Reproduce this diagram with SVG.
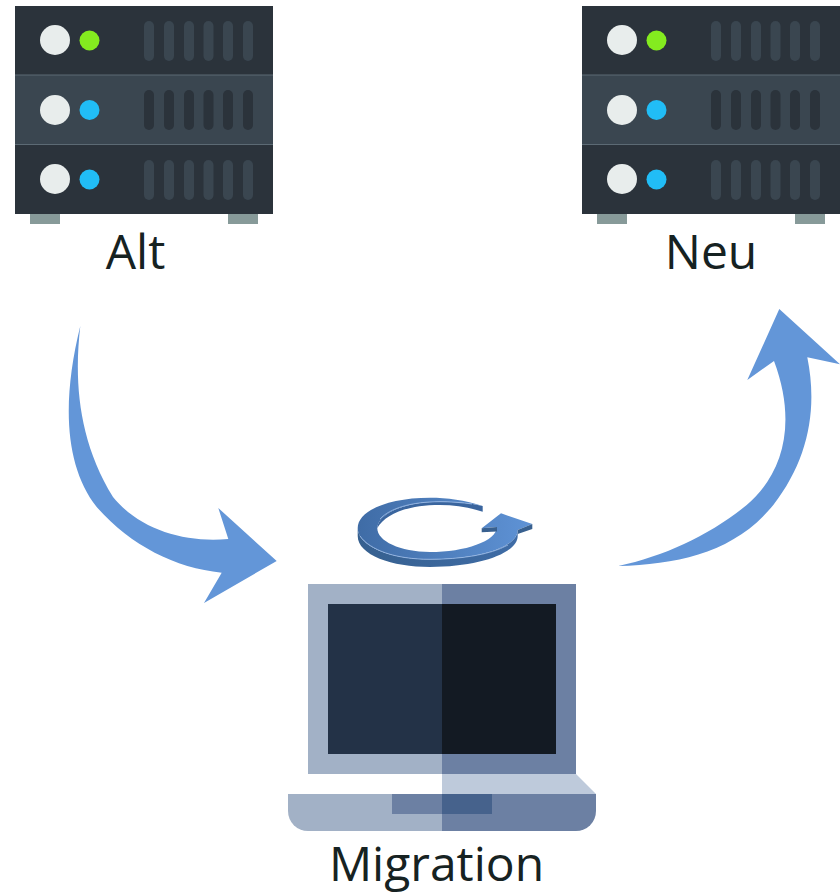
<svg xmlns="http://www.w3.org/2000/svg" width="840" height="894" viewBox="0 0 840 894">
<defs>
<linearGradient id="ringTop" x1="0" x2="1" y1="0" y2="0"><stop offset="0" stop-color="#3f6ca6"/><stop offset="1" stop-color="#5f93d6"/></linearGradient>
<linearGradient id="ringSide" x1="0" x2="1" y1="0" y2="0"><stop offset="0" stop-color="#36608f"/><stop offset="1" stop-color="#3f6ca6"/></linearGradient>
<g id="server">
<rect x="15" y="6" width="258" height="208" fill="#2b333b"/>
<rect x="15" y="75" width="258" height="69.500" fill="#3a4650"/>
<path d="M15 75H273M15 144.500H273" stroke="#5c6a74" stroke-width="1" fill="none"/>
<rect x="30" y="214" width="30" height="10" fill="#879a99"/>
<rect x="228" y="214" width="30" height="10" fill="#879a99"/>
<g fill="#e8edec"><circle cx="55" cy="40" r="15"/><circle cx="55" cy="110" r="15"/><circle cx="55" cy="179" r="15"/></g>
<g fill="#3a4650">
<rect x="144" y="21" width="10" height="40" rx="5"/><rect x="164" y="21" width="10" height="40" rx="5"/><rect x="184" y="21" width="10" height="40" rx="5"/><rect x="203.500" y="21" width="10" height="40" rx="5"/><rect x="223" y="21" width="10" height="40" rx="5"/><rect x="243" y="21" width="10" height="40" rx="5"/>
<rect x="144" y="160" width="10" height="40" rx="5"/><rect x="164" y="160" width="10" height="40" rx="5"/><rect x="184" y="160" width="10" height="40" rx="5"/><rect x="203.500" y="160" width="10" height="40" rx="5"/><rect x="223" y="160" width="10" height="40" rx="5"/><rect x="243" y="160" width="10" height="40" rx="5"/>
</g>
<g fill="#2b333b">
<rect x="144" y="90" width="10" height="40" rx="5"/><rect x="164" y="90" width="10" height="40" rx="5"/><rect x="184" y="90" width="10" height="40" rx="5"/><rect x="203.500" y="90" width="10" height="40" rx="5"/><rect x="223" y="90" width="10" height="40" rx="5"/><rect x="243" y="90" width="10" height="40" rx="5"/>
</g>
<circle cx="89.500" cy="40.500" r="10" fill="#84eb1f"/>
<circle cx="89.500" cy="110" r="10" fill="#21bdf6"/>
<circle cx="89.500" cy="179.500" r="10" fill="#21bdf6"/>
</g>
</defs>
<style>
.lbl{font-family:"Open Sans",sans-serif;font-size:48px;fill:#162222;text-anchor:middle}
.arrow{fill:#6396d8}
</style>
<g id="connectors">
<path class="arrow" d="M80.300 326C74 380 78 440 113 497C140 530 185 543 228.300 539L218.300 508L276.700 561L204 603L221.700 572.700C175 568 130 545 96.700 507C64 465 62 400 80.300 326Z"/>
<path class="arrow" d="M618.300 566C665 556 710 535 746.700 505C782 475 798 425 774 361L747.300 380L779.300 309L840 364.300L807.300 357.300C818 410 808 460 773.300 505C735 552 680 564 618.300 566Z"/>
</g>
<g id="node-alt">
<use href="#server"/>
<text class="lbl" x="135.500" y="269">Alt</text>
</g>
<g id="node-neu">
<use href="#server" x="567"/>
<text class="lbl" x="711" y="269">Neu</text>
</g>
<g id="node-migration">
<path d="M357.700 528V536C357.700 555 392 567 430 567C480 567 517.700 553 517.700 536V530C517.700 547 480 559.300 430 559.300C390 559.300 357.700 546 357.700 528Z" fill="url(#ringSide)"/>
<path d="M482.700 506V511.700C468 507 455 505 440 505C405 505 385 515 377.300 528C377.300 516 400 501.700 440 501.700C455 501.700 470 503 482.700 506Z" fill="#3a659e"/>
<path fill="url(#ringTop)" d="M482.700 506C465 500 447 497.700 430 497.700C388 497.700 357.700 511 357.700 528C357.700 546 390 559.300 430 559.300C480 559.300 517.700 547 517.700 530L532.300 524L501 513.300L481.700 528.300L496.700 527C497 541 465 552 430 552C400 552 377.300 541 377.300 528.300C377.300 516 400 501.700 440 501.700C455 501.700 470 503 482.700 506Z"/>
<path d="M481.700 528.300V532.300L497 531.500V527ZM517.700 530V534L532.300 529V524Z" fill="#38608f"/>
<path d="M360 536C370 550 395 559.300 430 559.300C460 559.300 490 555 508 545" fill="none" stroke="#9dbde8" stroke-width="0.800"/>
<path d="M380 519C390 508 412 501.700 440 501.700C450 501.700 462 502.500 472 504" fill="none" stroke="#9dbde8" stroke-width="0.800"/>
<rect x="308" y="584" width="134" height="190" fill="#a2b1c6"/>
<rect x="442" y="584" width="134" height="190" fill="#6c80a3"/>
<rect x="328" y="604" width="114" height="150" fill="#233247"/>
<rect x="442" y="604" width="114" height="150" fill="#131a23"/>
<path d="M442 774H576L596 794H442Z" fill="#becadb"/>
<path d="M288 794H442V831H308A20 20 0 0 1 288 811Z" fill="#a2b1c6"/>
<path d="M442 794H596V811A20 20 0 0 1 576 831H442Z" fill="#6c80a3"/>
<rect x="392" y="794" width="50" height="20" fill="#6c80a3"/>
<rect x="442" y="794" width="50" height="20" fill="#46628c"/>
<text class="lbl" x="436.500" y="881">Migration</text>
</g>
</svg>
